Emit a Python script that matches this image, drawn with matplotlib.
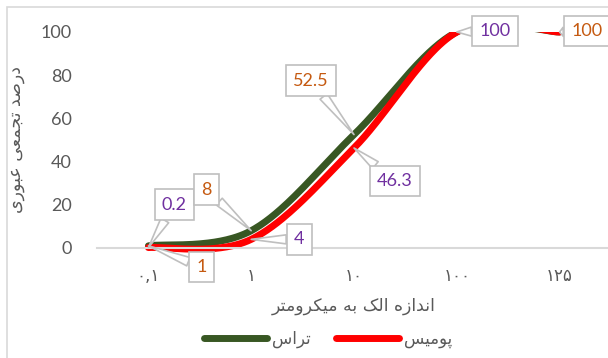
import matplotlib.pyplot as plt
import numpy as np
from matplotlib.lines import Line2D
from matplotlib.patches import Rectangle

plt.rcParams['font.family'] = ['Lato', 'DejaVu Sans']

# داده‌ها
sizes = ['۰,۱', '۱', '۱۰', '۱۰۰', '۱۲۵']
teras = [1, 8, 52.5, 100, 100]
pumice = [0.2, 4, 46.3, 100, 100]
teras_name = 'تراس'
pumice_name = 'پومیس'
xlabel = 'اندازه الک به میکرومتر'
ylabel = 'درصد تجمعی عبوری'

green = '#385723'
red = '#FF0000'
orange = '#C55A11'
purple = '#7030A0'
grey = '#595959'

# matplotlib does no arabic shaping, so pick the joined forms by hand
FORMS = {
    'ا': 'ﺍﺎ', 'د': 'ﺩﺪ', 'ر': 'ﺭﺮ', 'ز': 'ﺯﺰ', 'و': 'ﻭﻮ',
    'ب': 'ﺏﺐﺑﺒ', 'پ': 'ﭖﭗﭘﭙ', 'ت': 'ﺕﺖﺗﺘ', 'ج': 'ﺝﺞﺟﺠ',
    'س': 'ﺱﺲﺳﺴ', 'ص': 'ﺹﺺﺻﺼ', 'ع': 'ﻉﻊﻋﻌ', 'ک': 'ﮎﮏﮐﮑ',
    'ل': 'ﻝﻞﻟﻠ', 'م': 'ﻡﻢﻣﻤ', 'ن': 'ﻥﻦﻧﻨ', 'ه': 'ﻩﻪﻫﻬ',
    'ی': 'ﯼﯽﯾﯿ',
}


def shape(text):
    out = []
    for i, ch in enumerate(text):
        if ch not in FORMS:
            out.append(ch)
            continue
        prev = text[i - 1] if i > 0 else ''
        nxt = text[i + 1] if i + 1 < len(text) else ''
        jp = prev in FORMS and len(FORMS[prev]) == 4
        jn = len(FORMS[ch]) == 4 and nxt in FORMS
        f = FORMS[ch]
        if jp and jn:
            out.append(f[3])
        elif jp:
            out.append(f[1])
        elif jn:
            out.append(f[2])
        else:
            out.append(f[0])
    return ''.join(reversed(out))


def smooth(y, n=60):
    # excel style smoothed line (catmull-rom bezier)
    p = np.column_stack([np.arange(len(y)), np.asarray(y, float)])
    ext = np.vstack([p[0], p, p[-1]])
    xs, ys = [], []
    t = np.linspace(0, 1, n)[:, None]
    for i in range(len(p) - 1):
        p0, p3 = p[i], p[i + 1]
        p1 = p0 + (ext[i + 2] - ext[i]) / 6
        p2 = p3 - (ext[i + 3] - ext[i + 1]) / 6
        c = ((1 - t) ** 3 * p0 + 3 * (1 - t) ** 2 * t * p1
             + 3 * (1 - t) * t ** 2 * p2 + t ** 3 * p3)
        xs.append(c[:, 0])
        ys.append(c[:, 1])
    return np.concatenate(xs), np.concatenate(ys)


fig = plt.figure(figsize=(6.08, 3.58), dpi=100)
ax = fig.add_axes([97 / 608, 110 / 358, 514 / 608, 216 / 358])

clip = Rectangle((-0.5, -4), 5, 104, transform=ax.transData)
for vals, col in [(teras, green), (pumice, red)]:
    sx, sy = smooth(vals)
    ln, = ax.plot(sx, sy, color=col, lw=5, solid_capstyle='round')
    ln.set_clip_path(clip)

ax.set_xlim(-0.5, 4.5)
ax.set_ylim(0, 100)
ax.set_xticks(range(len(sizes)))
ax.set_xticklabels(sizes, fontsize=12, color=grey, family='DejaVu Sans')
ax.set_yticks(range(0, 101, 20))
ax.tick_params(axis='y', length=0, labelsize=13, labelcolor=grey, pad=18)
ax.tick_params(axis='x', length=0, pad=14)
for s in ['top', 'right', 'left']:
    ax.spines[s].set_visible(False)
ax.spines['bottom'].set_color('#D9D9D9')
ax.spines['bottom'].set_linewidth(1.5)

ax.set_xlabel(shape(xlabel), fontsize=12.5, color=grey, family='DejaVu Sans', labelpad=8)
ax.set_ylabel(shape(ylabel), fontsize=12.5, color=grey, family='DejaVu Sans')
ax.yaxis.set_label_coords(-72 / 514, 0.5)

# data labels: (series, index, colour, offset in pixels)
labels = [
    (teras, 0, orange, (53, -21)),
    (pumice, 0, purple, (26, 43)),
    (teras, 1, orange, (-45, 41)),
    (pumice, 1, purple, (48, 0)),
    (teras, 2, orange, (-43, 54)),
    (pumice, 2, purple, (41, -33)),
    (pumice, 3, purple, (38, 1)),
    (teras, 4, orange, (27, 1)),
]
for vals, i, col, off in labels:
    ax.annotate(f'{vals[i]:g}', xy=(i, vals[i]), xytext=off,
                textcoords='offset pixels', ha='center', va='center',
                fontsize=13, color=col, annotation_clip=False,
                bbox=dict(boxstyle='square,pad=0.4', fc='white', ec='#BFBFBF', lw=1.2),
                arrowprops=dict(arrowstyle='wedge,tail_width=0.5,shrink_factor=0.5',
                                fc='white', ec='#BFBFBF', lw=1.2, shrinkA=0, shrinkB=0))

handles = [Line2D([], [], color=green, lw=5, solid_capstyle='round'),
           Line2D([], [], color=red, lw=5, solid_capstyle='round')]
fig.legend(handles, [shape(teras_name), shape(pumice_name)], loc='center',
           bbox_to_anchor=(0.54, 0.053), ncol=2, frameon=False, handlelength=3.8,
           handletextpad=0.3, columnspacing=1.5,
           prop={'family': 'DejaVu Sans', 'size': 12}, labelcolor=grey)

# chart area border (only left and top are inside the picture)
fig.patches.append(Rectangle((7 / 608, -0.1), 1.2, 351 / 358 + 0.1,
                             transform=fig.transFigure, fill=False,
                             ec='#D9D9D9', lw=1.2))

fig.savefig('out.png', dpi=100)
